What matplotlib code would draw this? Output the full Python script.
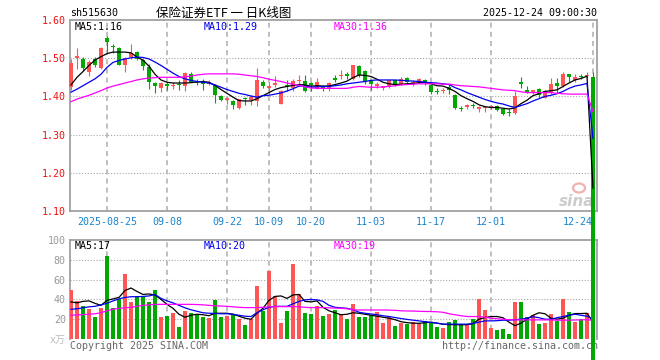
import matplotlib
matplotlib.use('Agg')
import matplotlib.pyplot as plt
import numpy as np
from matplotlib.patches import Ellipse

plt.rcParams['font.family'] = ['DejaVu Sans Mono', 'Noto Sans CJK SC']

# daily candles 2025-08-15 .. 2025-12-24 (last one is the pre-market snapshot)
open_ = [1.425,1.500,1.498,1.465,1.497,1.474,1.553,1.533,1.527,1.481,
         1.503,1.517,1.494,1.478,1.436,1.422,1.433,1.427,1.432,1.427,
         1.459,1.441,1.439,1.433,1.429,1.401,1.390,1.388,1.370,1.396,
         1.390,1.389,1.439,1.421,1.430,1.380,1.430,1.421,1.440,1.441,
         1.435,1.422,1.428,1.422,1.449,1.453,1.459,1.446,1.479,1.466,
         1.442,1.427,1.422,1.427,1.442,1.433,1.448,1.435,1.437,1.443,
         1.431,1.415,1.413,1.424,1.404,1.369,1.373,1.378,1.367,1.369,
         1.371,1.376,1.367,1.360,1.356,1.437,1.417,1.410,1.419,1.396,
         1.410,1.435,1.426,1.458,1.444,1.454,1.454,1.452]
close = [1.488,1.507,1.474,1.490,1.483,1.527,1.543,1.529,1.483,1.500,
         1.513,1.498,1.479,1.439,1.427,1.436,1.427,1.430,1.429,1.462,
         1.439,1.435,1.433,1.437,1.403,1.390,1.397,1.377,1.392,1.394,
         1.398,1.443,1.427,1.427,1.435,1.414,1.426,1.441,1.443,1.415,
         1.430,1.437,1.422,1.435,1.444,1.457,1.453,1.481,1.455,1.437,
         1.433,1.433,1.427,1.442,1.433,1.446,1.437,1.439,1.446,1.435,
         1.411,1.411,1.416,1.418,1.369,1.366,1.378,1.374,1.371,1.371,
         1.376,1.365,1.354,1.357,1.402,1.432,1.410,1.417,1.404,1.415,
         1.432,1.426,1.458,1.450,1.452,1.451,1.456,0.0]
high = [1.498,1.526,1.503,1.494,1.503,1.529,1.559,1.538,1.529,1.503,
        1.536,1.520,1.498,1.485,1.437,1.438,1.437,1.437,1.442,1.465,
        1.465,1.446,1.446,1.444,1.433,1.403,1.398,1.390,1.394,1.398,
        1.403,1.475,1.442,1.437,1.453,1.416,1.442,1.446,1.455,1.455,
        1.437,1.448,1.431,1.437,1.455,1.468,1.463,1.483,1.481,1.468,
        1.443,1.437,1.428,1.446,1.444,1.450,1.450,1.442,1.448,1.446,
        1.433,1.421,1.421,1.432,1.406,1.374,1.380,1.383,1.376,1.376,
        1.378,1.378,1.369,1.367,1.413,1.450,1.426,1.418,1.421,1.417,
        1.448,1.447,1.465,1.459,1.458,1.458,1.465,1.465]
low = [1.418,1.472,1.468,1.453,1.477,1.472,1.516,1.514,1.481,1.465,
       1.498,1.494,1.468,1.420,1.409,1.411,1.417,1.420,1.416,1.413,
       1.437,1.430,1.417,1.429,1.383,1.389,1.381,1.366,1.368,1.377,
       1.378,1.376,1.421,1.407,1.424,1.379,1.415,1.413,1.428,1.411,
       1.413,1.420,1.415,1.413,1.437,1.446,1.446,1.443,1.450,1.433,
       1.418,1.421,1.418,1.421,1.428,1.430,1.433,1.428,1.435,1.430,
       1.405,1.407,1.409,1.406,1.367,1.361,1.367,1.369,1.360,1.358,
       1.367,1.361,1.351,1.349,1.354,1.421,1.408,1.406,1.395,1.395,
       1.406,1.410,1.424,1.437,1.437,1.445,1.448,0.0]
volume = [49,38,33,30,22,31,84,31,40,66,
          37,43,43,37,49,22,23,26,12,28,
          26,25,22,21,39,22,23,25,20,14,
          20,54,28,69,43,16,28,76,45,26,
          25,33,23,25,29,25,20,35,22,22,
          24,27,16,22,13,16,15,17,15,18,
          16,12,11,17,19,15,14,20,40,29,
          11,9,10,5,37,37,22,24,15,16,
          25,18,40,27,17,20,26,0]

# moving averages as drawn on the chart
ma5 = [1.430,1.450,1.465,1.481,1.495,1.504,1.512,1.516,1.516,1.516,
       1.514,1.503,1.495,1.479,1.458,1.443,1.437,1.435,1.435,1.435,
       1.436,1.438,1.439,1.437,1.429,1.418,1.408,1.398,1.389,1.388,
       1.388,1.394,1.402,1.410,1.418,1.423,1.426,1.429,1.431,1.430,
       1.427,1.428,1.427,1.427,1.431,1.435,1.440,1.449,1.456,1.455,
       1.452,1.445,1.437,1.433,1.431,1.432,1.433,1.434,1.436,1.437,
       1.433,1.428,1.427,1.421,1.413,1.402,1.394,1.387,1.378,1.373,
       1.371,1.371,1.369,1.367,1.370,1.381,1.390,1.402,1.407,1.413,
       1.415,1.417,1.426,1.435,1.443,1.447,1.453,1.160]
ma10 = [1.411,1.419,1.428,1.437,1.446,1.458,1.476,1.489,1.494,1.498,
        1.501,1.503,1.502,1.498,1.490,1.481,1.471,1.461,1.452,1.446,
        1.442,1.439,1.437,1.435,1.430,1.424,1.418,1.413,1.408,1.405,
        1.401,1.398,1.402,1.403,1.406,1.409,1.414,1.420,1.427,1.427,
        1.424,1.425,1.426,1.426,1.428,1.430,1.433,1.435,1.437,1.439,
        1.442,1.443,1.443,1.443,1.443,1.442,1.441,1.440,1.439,1.437,
        1.436,1.435,1.433,1.431,1.423,1.417,1.410,1.404,1.398,1.392,
        1.387,1.383,1.380,1.375,1.371,1.376,1.381,1.388,1.394,1.400,
        1.403,1.407,1.413,1.421,1.427,1.430,1.434,1.290]
ma30 = [1.386,1.393,1.398,1.403,1.409,1.415,1.422,1.427,1.431,1.435,
        1.439,1.443,1.446,1.448,1.449,1.450,1.450,1.450,1.450,1.451,
        1.453,1.456,1.458,1.459,1.459,1.459,1.459,1.459,1.458,1.456,
        1.454,1.452,1.449,1.445,1.442,1.439,1.435,1.432,1.429,1.425,
        1.422,1.421,1.421,1.421,1.421,1.421,1.421,1.424,1.426,1.425,
        1.424,1.424,1.425,1.426,1.428,1.430,1.431,1.432,1.433,1.433,
        1.433,1.433,1.432,1.432,1.430,1.428,1.427,1.426,1.425,1.423,
        1.421,1.419,1.417,1.416,1.415,1.412,1.410,1.410,1.410,1.410,
        1.410,1.408,1.407,1.406,1.406,1.406,1.406,1.360]
vma5 = [37.5,36.5,38,38.5,36,34,39,40.5,42,49,
        51.5,48,45,45.5,44.5,40,35,31,25,22,
        24,25,24.5,23.5,26,26,26,25,23,21,
        20,26,31,39,43,43.5,41,44.5,45,38,
        37.5,38.5,32,28.5,26.5,24.5,25,26.5,26,25,
        24,23,22,21,19.5,17.5,16.5,16,15.8,16.5,
        17,16,15,14.5,14.5,14.3,14.5,15.5,20,21.7,
        22.7,22.7,21.5,17,13.5,16,20,24,26.5,25.5,
        21,20,21,24,25.7,25.7,26,17]
vma10 = [30,30.5,31.5,32.5,33,34.5,36,38.5,40.5,42,
         42.7,42.7,43,43.5,45,41,38.5,36.5,34,31.5,
         29.5,28,26.5,26,25.8,25.5,25.5,25,24,23,
         22.7,26.5,29.5,32,33,33,33,35.5,38,39.5,
         40,39.5,38,34,32,31.5,31,29.5,27,26,
         25.3,24.5,23.5,22.7,21.7,20.7,19.8,19,18.3,17.5,
         16.7,16,15,15,15,15,15,15.7,17,18.3,
         18.3,18.5,19,19,19.5,20,21,22.5,21.5,20,
         20,21.5,22.7,24,25,24,23,20]
vma30 = [24,24.3,24.6,25,25.5,26.5,28.5,30,31,31.5,
         32,33,34,34.5,35,35,35,35,35,35,
         35,34.8,34.5,34,33.5,33.3,33,32.5,32,31.7,
         31.7,31.7,32,32.5,32.7,32.7,32.7,32.7,32.5,32,
         31.7,31.7,31.7,31.5,31.2,31,30.5,29.5,29.3,29.3,
         29.3,29.3,29.3,29.2,29,28.5,28.3,28.2,28,27.8,
         27.7,27.5,27,25.5,24.5,23.5,22.7,22.7,22.7,22,
         21,20.5,20,19.5,19.3,19.3,19.3,19.3,19.3,19.3,
         19.3,19,19,19,19.2,19.3,19.5,19]

date_idx = [6, 16, 26, 33, 40, 50, 60, 70, 87]
date_lbl = ['2025-08-25', '09-08', '09-22', '10-09', '10-20', '11-03', '11-17', '12-01', '12-24']
price_ticks = [1.10, 1.20, 1.30, 1.40, 1.50, 1.60]
vol_ticks = [0, 20, 40, 60, 80, 100]
vol_lbl = ['x万', '20', '40', '60', '80', '100']

RED = '#ff5555'
GREEN = '#00a800'
FRAME = '#a0a0a0'
GRID = '#b4b4b4'

W, H = 660, 360
fx = lambda px: px / W
fy = lambda py: 1 - py / H

fig = plt.figure(figsize=(W / 100, H / 100), dpi=100)
ax1 = fig.add_axes([fx(70), fy(211), (597 - 70) / W, (211 - 20) / H])
ax2 = fig.add_axes([fx(70), fy(339), (597 - 70) / W, (339 - 240) / H])
ax1.set_zorder(2)
ax2.set_zorder(1)

idx = np.arange(len(close))
o = np.array(open_)
c = np.array(close)
col = np.where(c >= o, RED, GREEN)
body_lo = np.minimum(o, c)
body_h = np.maximum(np.abs(c - o), 0.0026)

xlim = (-1 / 6, (597 - 71) / 6)

# price panel
ax1.vlines(idx, low, high, colors=col, lw=0.8, zorder=3)
bars = ax1.bar(idx, body_h, 0.8, bottom=body_lo, color=col, lw=0, zorder=4)
for b in bars:
    b.set_clip_on(False)
ax1.plot(idx, ma5, color='black', lw=0.9, zorder=5)
ax1.plot(idx, ma10, color='#0000ee', lw=0.9, zorder=5)
ax1.plot(idx, ma30, color='#ff00ff', lw=0.9, zorder=5)
ax1.set_xlim(*xlim)
ax1.set_ylim(price_ticks[0], price_ticks[-1])
ax1.set_yticks(price_ticks)
ax1.set_yticklabels(['%.2f' % t for t in price_ticks])
ax1.set_xticks(date_idx)
ax1.set_xticklabels(date_lbl)
ax1.get_xticklabels()[-1].set_ha('right')
ax1.tick_params(axis='y', length=0, pad=3, labelsize=7.2, labelcolor='#ee1111')
ax1.tick_params(axis='x', length=0, pad=4.5, labelsize=7.2, labelcolor='#1a84cc')
ax1.grid(axis='x', color=GRID, lw=1.2, linestyle=(0, (3, 2.5)))
for t in price_ticks[1:-1]:
    ax1.axhline(t, color='#a8a8a8', lw=0.8, linestyle=(0, (1, 1.6)), zorder=1)
for s in ax1.spines.values():
    s.set_color(FRAME)
    s.set_linewidth(1.3)

# sina watermark
ax1.add_patch(Ellipse((fx(579), fy(188)), 12 / W, 9 / H, transform=fig.transFigure,
                      fc='none', ec='#f2b0b0', lw=1.6, zorder=1))
ax1.text(fx(577), fy(201), 'sina', transform=fig.transFigure, family='DejaVu Sans',
         fontsize=11, style='italic', weight='bold', color='#cccccc',
         ha='center', va='center', zorder=1)

# volume panel
ax2.bar(idx, volume, 0.83, color=col, lw=0, zorder=3)
ax2.plot(idx, vma5, color='black', lw=0.9, zorder=5)
ax2.plot(idx, vma10, color='#0000ee', lw=0.9, zorder=5)
ax2.plot(idx, vma30, color='#ff00ff', lw=0.9, zorder=5)
ax2.set_xlim(*xlim)
ax2.set_ylim(vol_ticks[0], vol_ticks[-1])
ax2.set_xticks(date_idx)
ax2.set_xticklabels([])
ax2.set_yticks(vol_ticks)
ax2.set_yticklabels(vol_lbl)
ax2.tick_params(length=0, pad=3, labelsize=7.2, labelcolor='#999999')
ax2.get_yticklabels()[0].set_color('#bbbbbb')
ax2.grid(axis='x', color=GRID, lw=1.2, linestyle=(0, (3, 2.5)))
for t in vol_ticks[1:-1]:
    ax2.axhline(t, color='#a8a8a8', lw=0.8, linestyle=(0, (1, 1.6)), zorder=1)
for s in ax2.spines.values():
    s.set_color(FRAME)
    s.set_linewidth(1.3)
ax2.spines['bottom'].set_visible(False)

ax2.text(fx(70), fy(346), 'Copyright 2025 SINA.COM', transform=fig.transFigure,
         fontsize=7.2, color='#666666', va='center')
ax2.text(fx(442), fy(346), 'http://finance.sina.com.cn', transform=fig.transFigure,
         fontsize=7.2, color='#666666', va='center')

# header texts
fig.text(fx(70), fy(13), 'sh515630', fontsize=7.2, va='center')
fig.text(fx(224), fy(13), '保险证券ETF 一 日K线图', family='Noto Sans CJK SC',
         fontsize=9, ha='center', va='center')
fig.text(fx(597), fy(13), '2025-12-24 09:00:30', fontsize=7.2, ha='right', va='center')

fig.text(fx(75), fy(26.5), 'MA5:%.2f' % ma5[-1], fontsize=7.2, va='center', color='black')
fig.text(fx(204), fy(26.5), 'MA10:%.2f' % ma10[-1], fontsize=7.2, va='center', color='#0000ee')
fig.text(fx(334), fy(26.5), 'MA30:%.2f' % ma30[-1], fontsize=7.2, va='center', color='#ff00ff')
fig.text(fx(75), fy(246), 'MA5:%.0f' % vma5[-1], fontsize=7.2, va='center', color='black')
fig.text(fx(204), fy(246), 'MA10:%.0f' % vma10[-1], fontsize=7.2, va='center', color='#0000ee')
fig.text(fx(334), fy(246), 'MA30:%.0f' % vma30[-1], fontsize=7.2, va='center', color='#ff00ff')

fig.savefig('out.png', dpi=100, facecolor='white')
